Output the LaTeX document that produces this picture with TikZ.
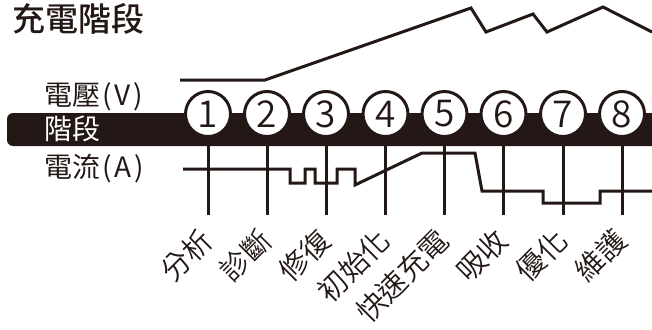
\documentclass[tikz,border=0pt]{standalone}
\usepackage{fontspec}
\setmainfont{Noto Sans CJK TC}
\newfontfamily\cjkmed{Noto Sans CJK TC Medium}
\newfontfamily\cjkdl{Noto Sans CJK TC DemiLight}
\definecolor{ink}{HTML}{231815}
\tikzset{
  wire/.style={draw=ink, line width=3pt, line join=miter},
  stagecircle/.style={circle, draw=ink, fill=white, line width=3pt, minimum size=45pt, inner sep=0pt, font=\cjkdl\fontsize{37}{37}\selectfont, text=ink},
  stagelabel/.style={anchor=east, rotate=45, inner sep=0pt, font=\cjkdl\fontsize{29}{29}\selectfont, text=ink},
  sidelabel/.style={anchor=west, inner sep=0pt, font=\fontsize{28}{28}\selectfont, text=ink},
}
\begin{document}
\begin{tikzpicture}[x=1pt,y=-1pt]
\useasboundingbox (0,0) rectangle (652,329);
\clip (0,0) rectangle (652,329);
% title
\node[anchor=north west, inner sep=0pt, font=\cjkmed\fontsize{33}{33}\selectfont, text=ink] (title) at (12,3) {充電階段};
% band
\fill[ink] (660,113) {[rounded corners=6pt] -- (7,113) -- (7,146)} -- (660,146) -- cycle;
% side labels
\node[sidelabel] (vlab) at (44,97) {電壓\kern2pt(\kern3pt V\kern3pt)};
\node[sidelabel, text=white] (slab) at (44,129) {階段};
\node[sidelabel] (alab) at (44,169) {電流\kern2pt(\kern3pt A\kern3pt)};
% stages
\foreach \i/\x/\t in {1/208/分析,2/267/診斷,3/326/修復,4/385.5/初始化,5/444.5/快速充電,6/503.5/吸收,7/563/優化,8/622/維護}{
  \coordinate (b\i) at (\x,215);
  \draw[wire] (\x,114) -- (b\i);
  \node[stagecircle] (s\i) at (\x,114) {\i};
  \node[stagelabel] (l\i) at ([xshift=-1pt,yshift=-20pt]b\i) {\t};
}
% voltage curve
\draw[wire] (180,80) -- (265,80) -- (471,8) -- (486,32) -- (533,14) -- (547,32) -- (603,7) -- (652,32);
% current curve
\draw[wire] (183,169) -- (290,169) -- (290,183) -- (305,183) -- (305,169) -- (315,169) -- (315,183) -- (337,183) -- (337,169) -- (355,169) -- (355,185) -- (422,153) -- (475,153) -- (482,191) -- (543,191) -- (543,203) -- (600,203) -- (600,191) -- (660,191);
\end{tikzpicture}
\end{document}
